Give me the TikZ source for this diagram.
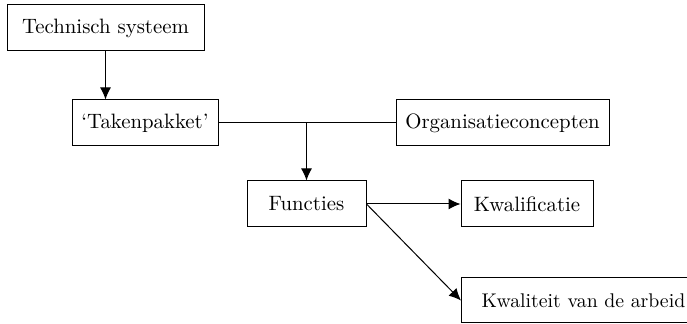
\documentclass[tikz,border=0pt]{standalone}
\usepackage{tikz}
\usetikzlibrary{arrows.meta}

\begin{document}
\begin{tikzpicture}[x=0.5pt,y=-0.5pt,line width=0.5pt,
        box/.style={draw,minimum height=23pt,inner sep=0pt,font=\fontsize{10.4pt}{13pt}\selectfont},
        pijl/.style={-{Latex[length=6pt,width=5.5pt]}}]
            \useasboundingbox (0,0) rectangle (687,324);
            \clip (0,0) rectangle (687,324);
            % boxes
            \node[box,minimum width=98.5pt] (tech) at (105.5,28) {Technisch systeem};
            \node[box,minimum width=73pt] (taken) at (145,123) {`Takenpakket'};
            \node[box,minimum width=106.5pt] (org) at (502.5,123) {Organisatieconcepten};
            \node[box,minimum width=59.5pt] (func) at (306.5,204) {Functies};
            \node[box,minimum width=66pt] (kwal) at (527,204) {Kwalificatie};
            \node[box,minimum width=122pt,minimum height=22.5pt,anchor=west,font=\fontsize{9.9pt}{12pt}\selectfont] (arbeid) at (461,300.5) {Kwaliteit van de arbeid};
            \coordinate (junc) at (306.5,123);
            % lines
            \draw[pijl] (tech) -- (tech |- taken.north);
            \draw (taken) -- (org);
            \draw[pijl] (junc) -- (func);
            \draw[pijl] (func) -- (kwal);
            \draw[pijl] (func.east) -- (arbeid.west);
        \end{tikzpicture}
\end{document}
